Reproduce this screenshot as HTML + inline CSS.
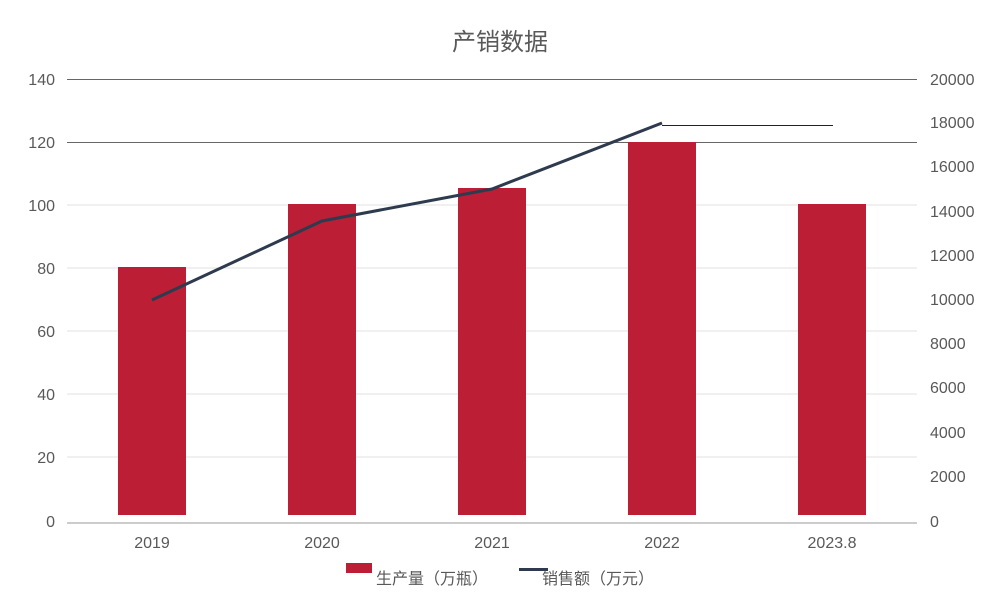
<!DOCTYPE html>
<html><head><meta charset="utf-8"><style>
body{margin:0;background:#fff}
text{font-family:"Liberation Sans","Noto Sans CJK SC",sans-serif;fill:#595959}
</style></head><body>
<svg width="1000" height="600" xmlns="http://www.w3.org/2000/svg">
<text x="500" y="50" font-size="24" text-anchor="middle">产销数据</text>
<g stroke="#e0e0e0" stroke-width="1">
<line x1="67" x2="917" y1="205" y2="205"/><line x1="67" x2="917" y1="268" y2="268"/>
<line x1="67" x2="917" y1="331" y2="331"/><line x1="67" x2="917" y1="394" y2="394"/>
<line x1="67" x2="917" y1="457" y2="457"/>
</g>
<line x1="67" x2="917" y1="79.5" y2="79.5" stroke="#666"/>
<line x1="67" x2="917" y1="142.5" y2="142.5" stroke="#666"/>
<g fill="#bb1e35">
<rect x="118" y="267" width="68" height="248"/>
<rect x="288" y="204" width="68" height="311"/>
<rect x="458" y="188" width="68" height="327"/>
<rect x="628" y="142" width="68" height="373"/>
<rect x="798" y="204" width="68" height="311"/>
</g>
<line x1="67" x2="917" y1="523" y2="523" stroke="#999"/>
<polyline points="152,300 322,221 492,189 662,123" fill="none" stroke="#2e3b4e" stroke-width="3"/>
<line x1="662" x2="833" y1="125.5" y2="125.5" stroke="#222"/>
<g font-size="16" text-anchor="end">
<text x="55" y="85">140</text><text x="55" y="148">120</text><text x="55" y="211">100</text>
<text x="55" y="274">80</text><text x="55" y="337">60</text><text x="55" y="400">40</text>
<text x="55" y="463">20</text><text x="55" y="527">0</text>
</g>
<g font-size="16" text-anchor="start">
<text x="930" y="85">20000</text><text x="930" y="128">18000</text><text x="930" y="172">16000</text>
<text x="930" y="217">14000</text><text x="930" y="261">12000</text><text x="930" y="305">10000</text>
<text x="930" y="349">8000</text><text x="930" y="393">6000</text><text x="930" y="438">4000</text>
<text x="930" y="482">2000</text><text x="930" y="527">0</text>
</g>
<g font-size="16" text-anchor="middle">
<text x="152" y="548">2019</text><text x="322" y="548">2020</text><text x="492" y="548">2021</text>
<text x="662" y="548">2022</text><text x="832" y="548">2023.8</text>
</g>
<rect x="346" y="563" width="26" height="10" fill="#bb1e35"/>
<text x="376" y="584" font-size="16">生产量（万瓶）</text>
<line x1="519" x2="548" y1="569.5" y2="569.5" stroke="#2e3b4e" stroke-width="3"/>
<text x="542" y="584" font-size="16">销售额（万元）</text>
</svg>
</body></html>
